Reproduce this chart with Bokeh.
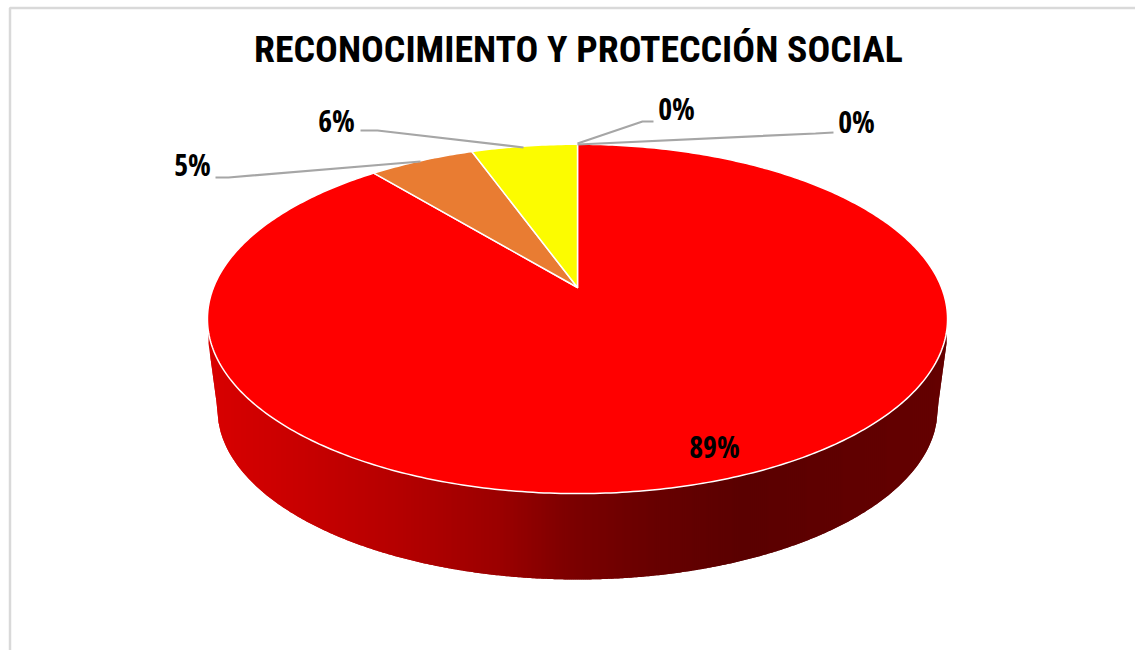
import math
from bokeh.plotting import figure
from bokeh.models import Range1d
from bokeh.core.properties import value
from bokeh.embed import file_html
from bokeh.resources import INLINE

# ---- data ----
TITLE = "RECONOCIMIENTO Y PROTECCIÓN SOCIAL"
categories = ["A", "B", "C", "D", "E"]
values = [89.0, 5.49, 5.51, 0.0, 0.0]
slice_colors = ["#FF0000", "#E97C32", "#FCFC00", "#5B9BD5", "#70AD47"]

# ---- label layout (page pixels), order matches values ----
label_x = [714, 192, 336, 676, 856]
label_y = [446, 164, 120, 108, 121]
leader_xs = [[215, 228, 420], [360, 377, 523], [577, 642, 653], [577, 815, 833]]
leader_ys = [[177, 177, 161], [130, 130, 147], [143, 121, 121], [144, 133, 132]]

# ---- pie geometry: perspective projection of a tilted disc ----
CX, APEX_Y, K, A, B = 577.0, 287.0, 0.18, 364.0, 169.0
def project(frac):
    t = 2 * math.pi * frac
    s, c = math.sin(t), math.cos(t)
    d = 1 + K * c
    return CX + A * s / d, APEX_Y - B * c / d

RIM_RX, RIM_RY, RIM_CY = 370.0, 174.7, 318.4
BASE_RX, BASE_RY, BASE_CY = 360.0, 170.0, 409.0
def rim_y(x):
    u = min(1.0, abs(x - CX) / RIM_RX)
    return RIM_CY + RIM_RY * math.sqrt(1 - u * u)
def base_y(x):
    u = abs(x - CX) / BASE_RX
    if u <= 1:
        return BASE_CY + BASE_RY * math.sqrt(1 - u * u)
    edge = abs(x - CX) - BASE_RX
    return BASE_CY - edge * (66.0 / 9.0)

side_stops = [(208, (216, 0, 0)), (300, (200, 0, 0)), (400, (180, 0, 0)), (500, (154, 0, 0)),
              (570, (124, 0, 0)), (650, (104, 0, 0)), (740, (90, 0, 0)), (850, (96, 0, 0)), (946, (100, 0, 0))]
def side_color(x):
    for (x0, c0), (x1, c1) in zip(side_stops, side_stops[1:]):
        if x <= x1:
            f = (x - x0) / (x1 - x0)
            r = round(c0[0] + (c1[0] - c0[0]) * f)
            return "#%02X0000" % r
    return "#640000"

p = figure(width=1135, height=650, output_backend="svg", toolbar_location=None,
           x_range=Range1d(0, 1135), y_range=Range1d(650, 0), min_border=0,
           outline_line_color=None, background_fill_color="white", border_fill_color="white")
p.axis.visible = False
p.grid.visible = False

# chart frame
p.line([9.5, 9.5, 1135], [650, 7.5, 7.5], line_color="#D9D9D9", line_width=2.5)

# side wall: overlapping colour strips, painted left to right
sx, sy, sc = [], [], []
x = 208.0
while x < 946:
    x2 = min(x + 4.0, 946.0)
    xm = min(x + 2.0, 946.0)
    sx.append([x, xm, x2, x2, xm, x])
    sy.append([rim_y(x) - 4, rim_y(xm) - 4, rim_y(x2) - 4, base_y(x2), base_y(xm), base_y(x)])
    sc.append(side_color(x))
    x += 2.0
p.patches(sx, sy, fill_color=sc, line_color=None)

# top surface, one polygon per value
total = sum(values)
wx, wy, wc = [], [], []
start = 0.0
for v, col in zip(values, slice_colors):
    if v > 0:
        n = max(2, int(v * 5))
        pts = [project(start + (v / total) * i / n) for i in range(n + 1)]
        wx.append([CX] + [q[0] for q in pts])
        wy.append([APEX_Y] + [q[1] for q in pts])
        wc.append(col)
    start += v / total
p.patches(wx, wy, fill_color=wc, line_color="white", line_width=1.5, line_join="round")

# leader lines
p.multi_line(leader_xs, leader_ys, line_color="#A6A6A6", line_width=2.2)

# data labels
p.text(label_x, label_y, text=["%d%%" % round(v) for v in values], text_font=value("Open Sans Condensed"),
       text_font_style="bold", text_font_size="30px", text_color="#000000",
       text_align="center", text_baseline="middle")

# title
p.text([578], [48], text=[TITLE], text_font=value("Roboto Condensed"), text_font_style="bold",
       text_font_size="37.8px", text_color="#000000", text_align="center", text_baseline="middle")

open("out.html", "w").write(file_html(p, INLINE))
